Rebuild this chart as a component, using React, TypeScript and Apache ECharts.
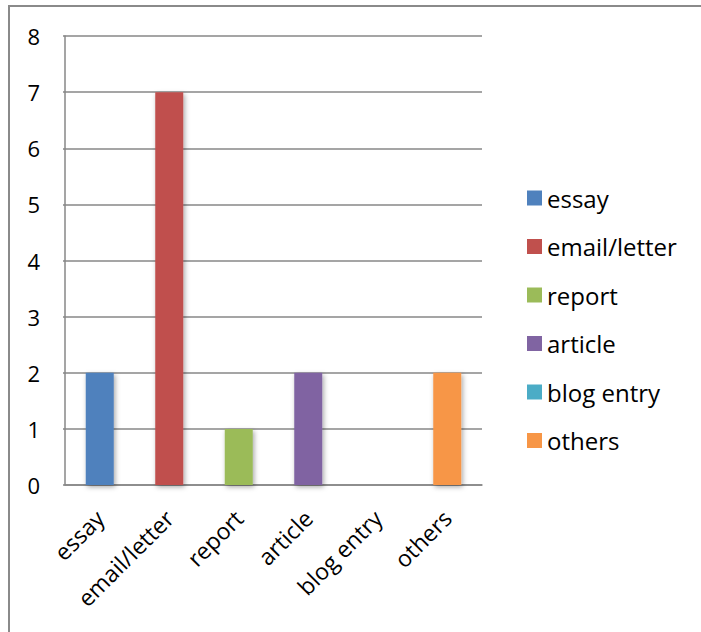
import React, { useEffect, useRef } from "react";
import * as echarts from "echarts";

// Writing task types and how many times each was chosen
const categories = ["essay", "email/letter", "report", "article", "blog entry", "others"];
const counts = [2, 7, 1, 2, 0, 2];
const colors = ["#4F81BD", "#C0504D", "#9BBB59", "#8064A2", "#4BACC6", "#F79646"];
const yTicks = [0, 1, 2, 3, 4, 5, 6, 7, 8];

const FONT = "'Open Sans', 'Noto Sans', sans-serif";
const GRID_GRAY = "#878787";

export default function App() {
  const ref = useRef<HTMLDivElement>(null);

  useEffect(() => {
    if (!ref.current) return;
    const chart = echarts.init(ref.current, undefined, { renderer: "svg" });

    // One series per category so each gets its own legend entry; stacking keeps every bar centred.
    const series = categories.map((name, i) => ({
      name,
      type: "bar" as const,
      stack: "all",
      barWidth: 28,
      data: categories.map((_, j) => (j === i ? counts[i] : "-")),
      itemStyle: {
        color: colors[i],
        shadowColor: "rgba(0,0,0,0.35)",
        shadowBlur: 5,
        shadowOffsetX: 1.5,
        shadowOffsetY: 2,
      },
    }));

    chart.setOption({
      animation: false,
      backgroundColor: "#ffffff",
      grid: { left: 65, top: 36, right: 219, bottom: 147, containLabel: false },
      graphic: [
        {
          type: "rect",
          shape: { x: 9, y: 6, width: 900, height: 900 },
          style: { fill: "none", stroke: "#8a8a8a", lineWidth: 2 },
          silent: true,
          z: -1,
        },
      ],
      legend: {
        orient: "vertical",
        left: 522,
        top: 181,
        itemWidth: 15,
        itemHeight: 15,
        itemGap: 24.5,
        icon: "rect",
        data: categories,
        textStyle: { fontFamily: FONT, fontSize: 24, color: "#000", lineHeight: 24 },
      },
      xAxis: {
        type: "category",
        data: categories,
        axisLine: { show: true, lineStyle: { color: GRID_GRAY, width: 1.5 } },
        axisTick: { show: false },
        axisLabel: {
          interval: 0,
          rotate: 45,
          margin: 29,
          fontFamily: FONT,
          fontSize: 23,
          color: "#000",
        },
      },
      yAxis: {
        type: "value",
        min: yTicks[0],
        max: yTicks[yTicks.length - 1],
        interval: 1,
        axisLine: { show: true, lineStyle: { color: GRID_GRAY, width: 1.5 } },
        axisTick: { show: true, length: 2, lineStyle: { color: GRID_GRAY, width: 1.5 } },
        splitLine: { show: true, lineStyle: { color: GRID_GRAY, width: 1.5 } },
        axisLabel: {
          margin: 25,
          fontFamily: FONT,
          fontSize: 22,
          color: "#000",
        },
      },
      series,
    });

    return () => chart.dispose();
  }, []);

  return (
    <div
      ref={ref}
      style={{ position: "fixed", left: 0, top: 0, width: 701, height: 632, background: "#fff" }}
    />
  );
}
